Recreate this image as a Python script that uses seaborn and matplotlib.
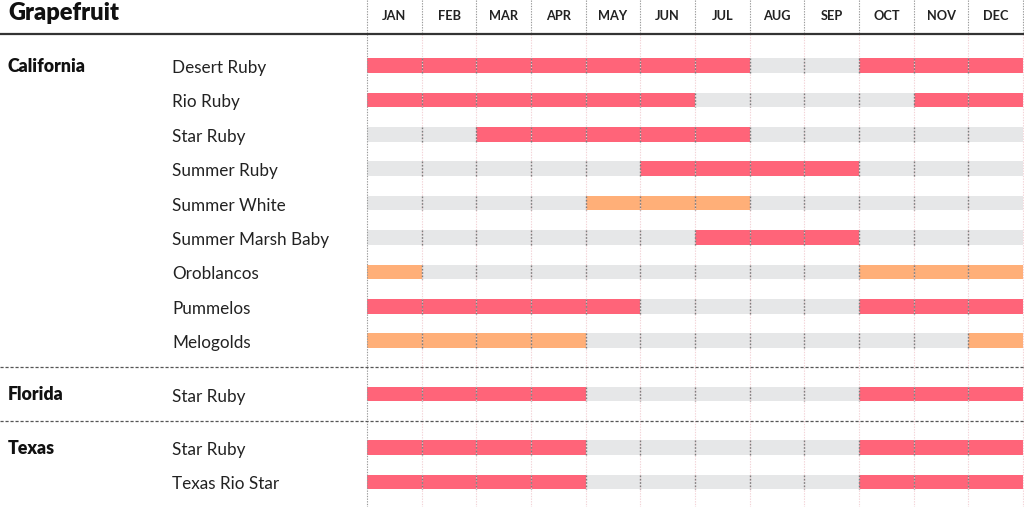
import numpy as np
import pandas as pd
import matplotlib
matplotlib.use("Agg")
import matplotlib.pyplot as plt
import matplotlib.transforms as mtransforms
import seaborn as sns

# ---------------- data ----------------
title = "Grapefruit"
months = ["JAN", "FEB", "MAR", "APR", "MAY", "JUN", "JUL", "AUG", "SEP", "OCT", "NOV", "DEC"]
states = ["California", "Florida", "Texas"]
varieties_california = ["Desert Ruby", "Rio Ruby", "Star Ruby", "Summer Ruby", "Summer White",
                        "Summer Marsh Baby", "Oroblancos", "Pummelos", "Melogolds"]
varieties_florida = ["Star Ruby"]
varieties_texas = ["Star Ruby", "Texas Rio Star"]
# status per month: 0 = out of season, 1 = in season (red), 2 = in season (orange)
season_california = [
    [1, 1, 1, 1, 1, 1, 1, 0, 0, 1, 1, 1],  # Desert Ruby
    [1, 1, 1, 1, 1, 1, 0, 0, 0, 0, 1, 1],  # Rio Ruby
    [0, 0, 1, 1, 1, 1, 1, 0, 0, 0, 0, 0],  # Star Ruby
    [0, 0, 0, 0, 0, 1, 1, 1, 1, 0, 0, 0],  # Summer Ruby
    [0, 0, 0, 0, 2, 2, 2, 0, 0, 0, 0, 0],  # Summer White
    [0, 0, 0, 0, 0, 0, 1, 1, 1, 0, 0, 0],  # Summer Marsh Baby
    [2, 0, 0, 0, 0, 0, 0, 0, 0, 2, 2, 2],  # Oroblancos
    [1, 1, 1, 1, 1, 0, 0, 0, 0, 1, 1, 1],  # Pummelos
    [2, 2, 2, 2, 0, 0, 0, 0, 0, 0, 0, 2],  # Melogolds
]
season_florida = [
    [1, 1, 1, 1, 0, 0, 0, 0, 0, 1, 1, 1],  # Star Ruby
]
season_texas = [
    [1, 1, 1, 1, 0, 0, 0, 0, 0, 1, 1, 1],  # Star Ruby
    [1, 1, 1, 1, 0, 0, 0, 0, 0, 1, 1, 1],  # Texas Rio Star
]

# ---------------- style ----------------
status_colors = {0: "#E6E7E8", 1: "#FF6479", 2: "#FFAF78"}
sns.set_theme(style="white")
plt.rcParams["font.family"] = ["Lato", "DejaVu Sans"]

W, H, DPI = 1024, 507, 100
fig = plt.figure(figsize=(W / DPI, H / DPI), dpi=DPI)
ax = fig.add_axes([0, 0, 1, 1])

# layout in pixels -> data units
COL0_PX, COL_W = 367.0, 54.67
ROW0_PX, PITCH = 65.5, 34.4
GROUP_GAP = 0.55
BAR_H = 0.42
TEXT_DROP = 7.5 / PITCH   # baseline offset below bar centre


def py(px):
    return (px - ROW0_PX) / PITCH


# build long-form table
groups = [(states[0], varieties_california, season_california),
          (states[1], varieties_florida, season_florida),
          (states[2], varieties_texas, season_texas)]
rows = []
ypos = 0.0
group_starts = []
for gi, (state, vars_, seas) in enumerate(groups):
    if gi > 0:
        ypos += GROUP_GAP
    group_starts.append(ypos)
    for vi, (v, s) in enumerate(zip(vars_, seas)):
        for mi, st in enumerate(s):
            rows.append(dict(state=state, variety=v, y=ypos, month=mi, status=st))
        ypos += 1.0
df = pd.DataFrame(rows)
row_ys = sorted(df["y"].unique())

# layered bars: month m bar spans [0, m+1]; drawing from Dec down to Jan
for m in range(11, -1, -1):
    sub = df[df["month"] == m].copy()
    sub["end"] = m + 1
    sns.barplot(data=sub, x="end", y="y", hue="status", palette=status_colors,
                orient="h", native_scale=True, dodge=False, width=BAR_H,
                errorbar=None, legend=False, ax=ax, linewidth=0, saturation=1)

xlim = (-COL0_PX / COL_W, 12 + (W - COL0_PX - 12 * COL_W) / COL_W)
ax.set_xlim(*xlim)
ax.set_ylim(py(H), py(0))
ax.axis("off")

dot = (0, (1.2, 1.2))
header_y = py(34.3)
# vertical month separators
bounds = np.arange(0, 13)
ax.vlines(bounds, py(0), header_y, colors="#9a9a9a", linestyles=dot, lw=0.8, zorder=5)
ax.vlines(bounds[1:], header_y, py(H), colors="#f3d3d7", linestyles=dot, lw=0.8, zorder=1)
ax.vlines([0], header_y, py(H), colors="#9a9a9a", linestyles=dot, lw=0.8, zorder=5)
for yv in row_ys:
    ax.vlines(bounds[1:-1], yv - BAR_H / 2, yv + BAR_H / 2, colors="#7d7d7d",
              linestyles=dot, lw=1.0, zorder=5)

# header line
ax.plot(xlim, [header_y, header_y], color="#333333", lw=1.6, zorder=6, solid_capstyle="butt")
# group separators
for gs in group_starts[1:]:
    ysep = gs - (1 + GROUP_GAP) / 2
    ax.plot(xlim, [ysep, ysep], color="#555555", lw=0.9, ls=(0, (2.5, 1.5)), zorder=6)

# texts
tr_fx = mtransforms.blended_transform_factory(fig.transFigure, ax.transData)
tr_xf = mtransforms.blended_transform_factory(ax.transData, fig.transFigure)
fig.text(8 / W, 1 - 19.5 / H, title, fontsize=17, fontweight="heavy", color="#111111",
         ha="left", va="baseline")
for mi, mname in enumerate(months):
    ax.text(mi + 0.5, 1 - 19.5 / H, mname, transform=tr_xf, fontsize=9.2, fontweight="bold",
            color="#222222", ha="center", va="baseline")
for gi, (state, vars_, seas) in enumerate(groups):
    y0 = group_starts[gi]
    ax.text(8 / W, y0 + TEXT_DROP - 0.03, state, transform=tr_fx, fontsize=12.8,
            fontweight="heavy", color="#111111", ha="left", va="baseline")
    for vi, v in enumerate(vars_):
        ax.text(172 / W, y0 + vi + TEXT_DROP, v, transform=tr_fx, fontsize=12.3,
                color="#222222", ha="left", va="baseline")

fig.savefig("out.png", dpi=DPI)
